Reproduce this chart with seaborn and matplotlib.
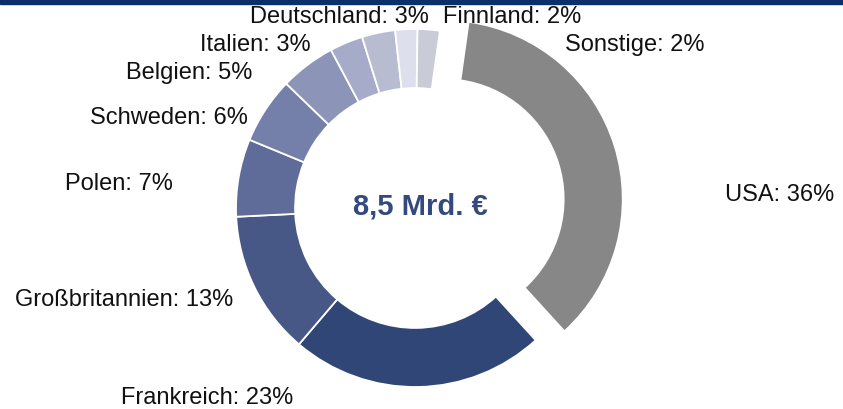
import matplotlib
matplotlib.use("Agg")
import matplotlib.pyplot as plt
from matplotlib.patches import Rectangle
import seaborn as sns

# Data (share of total, percent)
countries = ["USA", "Frankreich", "Großbritannien", "Polen", "Schweden",
             "Belgien", "Italien", "Deutschland", "Finnland", "Sonstige"]
shares = [36, 23, 13, 7, 6, 5, 3, 3, 2, 2]
total_label = "8,5 Mrd. €"

colors = ["#878787", "#2F4677", "#475887", "#5F6B99", "#7580AA",
          "#8C95B8", "#A7ABCA", "#B8BCD0", "#DDDFEC", "#C9CCD6"]

# label anchor points (pixels in the 843x410 picture, from top-left)
label_px = [(780, 195), (207, 398), (124, 300), (119, 184), (169, 118),
            (189, 73), (255, 45), (339, 17), (512, 17), (635, 45)]

sns.set_theme(style="white")
plt.rcParams["font.family"] = ["Liberation Sans", "DejaVu Sans"]

W, H = 843, 410
cx, cy, R = 415, 209, 179  # donut centre and radius in pixels

fig = plt.figure(figsize=(W / 100, H / 100), dpi=100)
ax = fig.add_axes([0, 0, 1, 1])

explode = [0.168 if c == "USA" else 0 for c in countries]
ax.pie(shares, colors=colors, startangle=82, counterclock=False,
       explode=explode, radius=1,
       wedgeprops=dict(width=0.33, edgecolor="white", linewidth=1.3))

ax.set_xlim(-cx / R, (W - cx) / R)
ax.set_ylim(-(H - cy) / R, cy / R)
ax.set_aspect("equal")
ax.axis("off")

for name, val, (px, py) in zip(countries, shares, label_px):
    ax.text((px - cx) / R, (cy - py) / R, f"{name}: {val}%",
            ha="center", va="center", fontsize=17, color="#111111")

ax.text((420 - cx) / R, (cy - 207) / R, total_label, ha="center", va="center",
        fontsize=21, fontweight="bold", color="#34497E")

# navy rule at the top
fig.add_artist(Rectangle((0, 1 - 5 / H), 1, 5 / H, transform=fig.transFigure,
                         color="#0A2F6B", zorder=5))

fig.savefig("out.png", dpi=100)
